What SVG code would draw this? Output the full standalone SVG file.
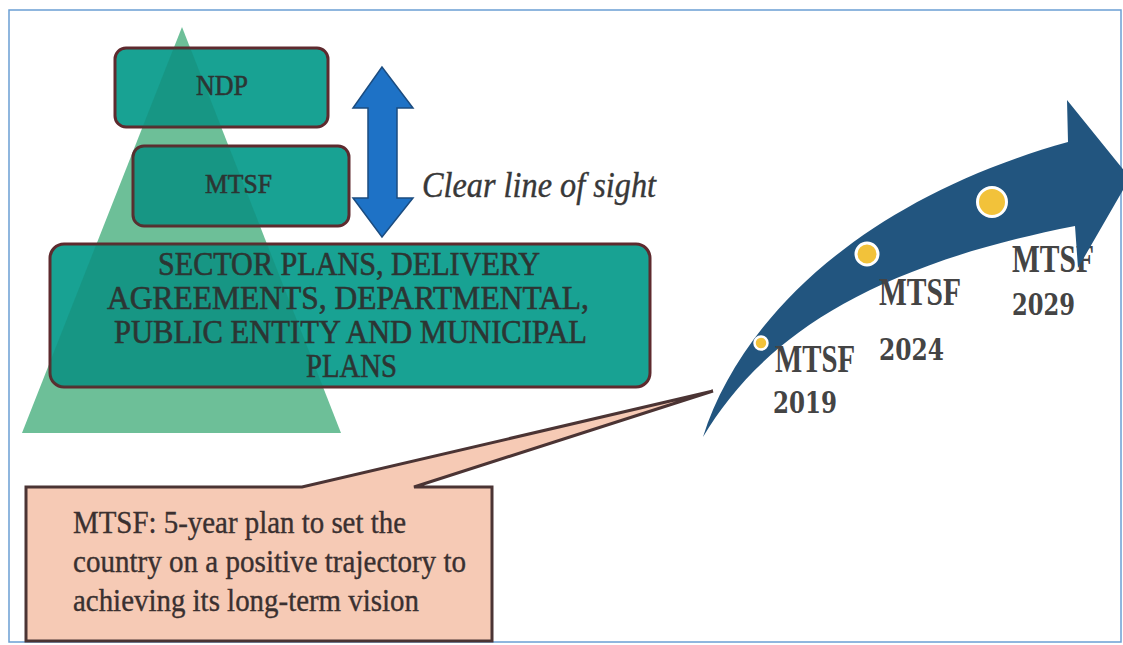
<svg xmlns="http://www.w3.org/2000/svg" width="1123" height="645" viewBox="0 0 1123 645">
<style>
.box{fill:#18a293;stroke:#5e2a2e;stroke-width:3}
.boxtxt{font-family:"Liberation Serif","Times New Roman",serif;fill:#2c3533;stroke:#2c3533;stroke-width:0.6}
.yr{font-family:"Liberation Serif","Times New Roman",serif;font-weight:bold;fill:#444444}
.num{font-family:"DejaVu Serif","Liberation Serif",serif;font-weight:bold;fill:#444444}
.call{font-family:"Liberation Serif","Times New Roman",serif;fill:#3a3030;stroke:#3a3030;stroke-width:0.3;font-size:26px}
</style>
<defs>
<clipPath id="boxclip">
<rect x="115" y="48" width="213" height="79" rx="11"/>
<rect x="133" y="146" width="216" height="80" rx="11"/>
<rect x="50" y="244" width="600" height="143" rx="14"/>
</clipPath>
</defs>
<rect x="0" y="0" width="1123" height="645" fill="#ffffff"/>
<g id="frame"><rect x="9" y="10" width="1112" height="632" fill="none" stroke="#6b9fd3" stroke-width="1.5"/></g>
<g id="pyramid"><polygon points="182,27 22,433 341,433" fill="#6dbf98"/></g>
<g id="ndp">
<rect class="box" x="115" y="48" width="213" height="79" rx="11"/>
</g>
<g id="mtsf">
<rect class="box" x="133" y="146" width="216" height="80" rx="11"/>
</g>
<g id="sector">
<rect class="box" x="50" y="244" width="600" height="143" rx="14"/>
</g>
<polygon points="182,27 22,433 341,433" fill="#14684c" opacity="0.2" clip-path="url(#boxclip)"/>
<g id="labels-boxes">
<text class="boxtxt" x="196" y="95" font-size="30" textLength="52" lengthAdjust="spacingAndGlyphs">NDP</text>
<text class="boxtxt" x="205" y="193" font-size="27" textLength="67" lengthAdjust="spacingAndGlyphs">MTSF</text>
<text class="boxtxt" x="158" y="275" font-size="34" textLength="382" lengthAdjust="spacingAndGlyphs">SECTOR PLANS, DELIVERY</text>
<text class="boxtxt" x="107" y="309" font-size="34" textLength="482" lengthAdjust="spacingAndGlyphs">AGREEMENTS,  DEPARTMENTAL,</text>
<text class="boxtxt" x="114" y="343" font-size="34" textLength="473" lengthAdjust="spacingAndGlyphs">PUBLIC ENTITY AND MUNICIPAL</text>
<text class="boxtxt" x="306" y="377" font-size="34" textLength="91" lengthAdjust="spacingAndGlyphs">PLANS</text>
</g>
<g id="sight-arrow">
<polygon points="382,67 353,108 368,108 368,198 353,198 382,237 413,198 397,198 397,108 413,108" fill="#1e72c6" stroke="#1b4c80" stroke-width="1.5"/>
</g>
<g id="sight-label">
<text x="422" y="197" font-family="'Liberation Serif','Times New Roman',serif" font-style="italic" font-size="36" fill="#383838" stroke="#383838" stroke-width="0.4" textLength="234" lengthAdjust="spacingAndGlyphs">Clear line of sight</text>
</g>
<g id="label-2029">
<text class="yr" transform="translate(1012,272) scale(1,1.45)" font-size="28" textLength="82" lengthAdjust="spacingAndGlyphs">MTSF</text>
<text class="num" transform="translate(1012,315) scale(1,1.3)" font-size="23" textLength="63" lengthAdjust="spacingAndGlyphs">2029</text>
</g>
<g id="timeline-arrow">
<path d="M703,437 C755,350 850,270 1075,226 L1078,268 L1130,178 L1067,100 L1068,142 C860,200 740,320 703,437 Z" fill="#22557f"/>
</g>
<g id="dot-2019"><circle cx="761" cy="343" r="6.5" fill="#f2c23a" stroke="#ffffff" stroke-width="2.5"/></g>
<g id="dot-2024"><circle cx="867" cy="254" r="11" fill="#f2c23a" stroke="#ffffff" stroke-width="3"/></g>
<g id="dot-2029"><circle cx="992" cy="202" r="14.5" fill="#f2c23a" stroke="#ffffff" stroke-width="3"/></g>
<g id="label-2019">
<text class="yr" transform="translate(775,372) scale(1,1.45)" font-size="28" textLength="80" lengthAdjust="spacingAndGlyphs">MTSF</text>
<text class="num" transform="translate(773,413) scale(1,1.3)" font-size="23" textLength="64" lengthAdjust="spacingAndGlyphs">2019</text>
</g>
<g id="label-2024">
<text class="yr" transform="translate(879,305) scale(1,1.45)" font-size="28" textLength="82" lengthAdjust="spacingAndGlyphs">MTSF</text>
<text class="num" transform="translate(879,360) scale(1,1.3)" font-size="23" textLength="65" lengthAdjust="spacingAndGlyphs">2024</text>
</g>
<g id="callout">
<path d="M26,487 L302,487 L713,391 L414,487 L492,487 L492,641 L26,641 Z" fill="#f6cab5" stroke="#4b3434" stroke-width="3" stroke-linejoin="miter"/>
<text class="call" transform="translate(73,533) scale(1,1.2)" textLength="333" lengthAdjust="spacingAndGlyphs">MTSF: 5-year plan to set the</text>
<text class="call" transform="translate(73,572) scale(1,1.2)" textLength="393" lengthAdjust="spacingAndGlyphs">country on a positive trajectory to</text>
<text class="call" transform="translate(73,611) scale(1,1.2)" textLength="346" lengthAdjust="spacingAndGlyphs">achieving its long-term vision</text>
</g>
</svg>
